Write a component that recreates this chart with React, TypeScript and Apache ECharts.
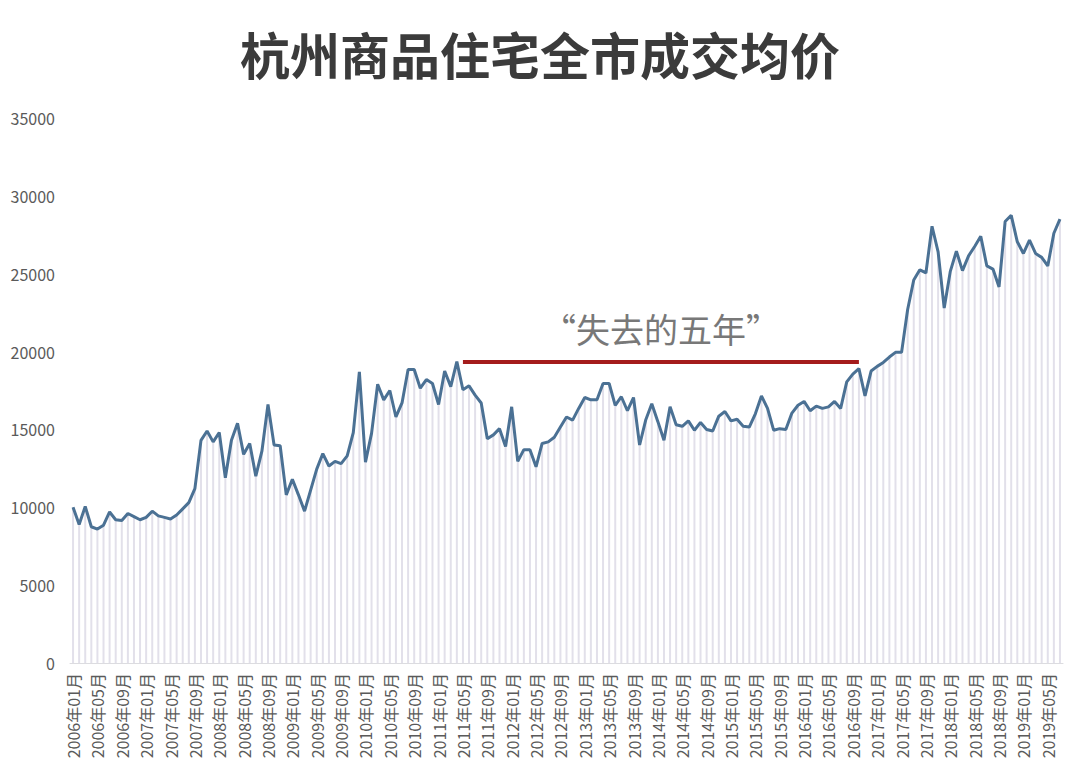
import React, { useEffect, useRef } from "react";
import * as echarts from "echarts";

const TITLE = "杭州商品住宅全市成交均价";
const ANNOTATION = "“失去的五年”";
const FIRST_YEAR = 2006;

// 月度成交均价（元/㎡）, by year
const p2006 = [10000, 8900, 10050, 8750, 8600, 8850, 9700, 9200, 9150, 9600, 9400, 9200];
const p2007 = [9350, 9750, 9450, 9350, 9250, 9500, 9900, 10300, 11200, 14300, 14900, 14200];
const p2008 = [14800, 11900, 14300, 15400, 13400, 14100, 12000, 13600, 16600, 14000, 13950, 10800];
const p2009 = [11800, 10800, 9750, 11100, 12450, 13450, 12650, 12950, 12800, 13300, 14800, 18700];
const p2010 = [12900, 14750, 17900, 16900, 17500, 15800, 16700, 18850, 18850, 17650, 18200, 17950];
const p2011 = [16600, 18750, 17750, 19350, 17550, 17800, 17200, 16700, 14400, 14650, 15050, 13900];
const p2012 = [16450, 12950, 13700, 13700, 12600, 14100, 14200, 14500, 15150, 15800, 15600, 16350];
const p2013 = [17050, 16900, 16900, 17950, 17950, 16550, 17100, 16200, 17050, 14000, 15600, 16650];
const p2014 = [15500, 14300, 16450, 15300, 15200, 15550, 14950, 15450, 15000, 14900, 15850, 16150];
const p2015 = [15550, 15650, 15200, 15150, 16000, 17150, 16350, 14950, 15050, 15000, 16050, 16550];
const p2016 = [16800, 16200, 16500, 16350, 16450, 16800, 16350, 18050, 18550, 18900, 17150, 18750];
const p2017 = [19050, 19300, 19650, 19950, 19950, 22700, 24600, 25250, 25050, 28050, 26400, 22800];
const p2018 = [25150, 26450, 25200, 26150, 26750, 27400, 25500, 25300, 24150, 28350, 28750, 27050];
const p2019 = [26300, 27150, 26300, 26050, 25500, 27600, 28500];

const yearly = [p2006, p2007, p2008, p2009, p2010, p2011, p2012, p2013, p2014, p2015, p2016, p2017, p2018, p2019];

// "失去的五年" reference line
const LOST_START = "2011年05月";
const LOST_END = "2016年10月";
const LOST_LEVEL = 19350;

const Y_TICKS = [0, 5000, 10000, 15000, 20000, 25000, 30000, 35000];

const months: string[] = [];
const prices: number[] = [];
yearly.forEach((arr, yi) => {
  arr.forEach((v, mi) => {
    months.push(`${FIRST_YEAR + yi}年${String(mi + 1).padStart(2, "0")}月`);
    prices.push(v);
  });
});

const FONT = "'Noto Sans CJK SC', 'Noto Sans', sans-serif";

export default function App() {
  const ref = useRef<HTMLDivElement>(null);
  useEffect(() => {
    if (!ref.current) return;
    const chart = echarts.init(ref.current, null, { renderer: "svg" });
    chart.setOption({
      animation: false,
      backgroundColor: "#ffffff",
      textStyle: { fontFamily: FONT },
      title: {
        text: TITLE,
        left: "center",
        top: 23,
        textStyle: { fontSize: 50, fontWeight: "bold", color: "#3b3b3b", fontFamily: FONT },
      },
      grid: { left: 70, right: 17, top: 118, bottom: 104 },
      xAxis: {
        type: "category",
        data: months,
        boundaryGap: true,
        axisLine: { show: true, lineStyle: { color: "#dcdce0", width: 1 } },
        axisTick: { show: false },
        axisLabel: {
          interval: 3,
          rotate: 90,
          fontSize: 16,
          color: "#5a5a5a",
          margin: 10,
          fontFamily: FONT,
        },
        splitLine: { show: false },
      },
      yAxis: {
        type: "value",
        min: Y_TICKS[0],
        max: Y_TICKS[Y_TICKS.length - 1],
        interval: Y_TICKS[1] - Y_TICKS[0],
        axisLine: { show: false },
        axisTick: { show: false },
        splitLine: { show: false },
        axisLabel: {
          fontSize: 16,
          color: "#5a5a5a",
          margin: 15,
          fontFamily: FONT,
          formatter: (v: number) => String(v),
        },
      },
      series: [
        {
          type: "bar",
          data: prices,
          barWidth: 2,
          itemStyle: { color: "#e2e0ea" },
          silent: true,
          z: 1,
        },
        {
          type: "line",
          data: prices,
          symbol: "none",
          lineStyle: { color: "#4b7194", width: 3 },
          z: 3,
          markLine: {
            silent: true,
            symbol: "none",
            lineStyle: { color: "#a41c1c", width: 4, type: "solid" },
            label: {
              show: true,
              position: "middle",
              formatter: ANNOTATION,
              fontSize: 34,
              color: "#787878",
              distance: 16,
              fontFamily: FONT,
            },
            data: [
              [
                { coord: [LOST_START, LOST_LEVEL] },
                { coord: [LOST_END, LOST_LEVEL] },
              ],
            ],
          },
        },
      ],
    });
    return () => chart.dispose();
  }, []);
  return (
    <div
      ref={ref}
      style={{ position: "fixed", left: 0, top: 0, width: 1080, height: 767, background: "#fff" }}
    />
  );
}
